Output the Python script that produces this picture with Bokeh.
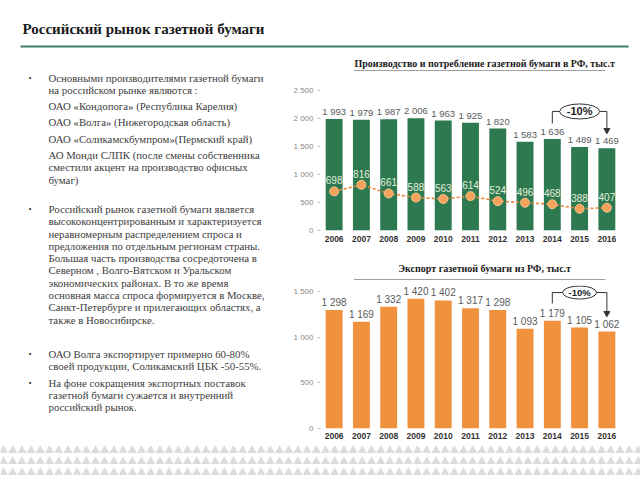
from bokeh.plotting import figure
from bokeh.layouts import column, row
from bokeh.models import Range1d, FactorRange, ColumnDataSource
from bokeh.core.properties import value
from bokeh.embed import file_html
from bokeh.resources import INLINE

# ---------------- data ----------------
years = ["2006", "2007", "2008", "2009", "2010", "2011", "2012", "2013", "2014", "2015", "2016"]
production = [1993, 1979, 1987, 2006, 1963, 1925, 1820, 1583, 1636, 1489, 1469]
consumption = [698, 816, 661, 588, 563, 614, 524, 496, 468, 388, 407]
export = [1298, 1169, 1332, 1420, 1402, 1317, 1298, 1093, 1179, 1105, 1062]
prod_ticks = [0, 500, 1000, 1500, 2000, 2500]
exp_ticks = [0, 500, 1000, 1500]
change_label = "-10%"

slide_title = "Российский рынок газетной бумаги"
chart1_title = "Производство и потребление газетной бумаги в РФ, тыс.т"
chart2_title = "Экспорт газетной бумаги из РФ, тыс.т"

# (bullet, lines, gap before block)
text_blocks = [
    (True, ["Основными производителями газетной бумаги",
            "на российском рынке являются :"], 0),
    (False, ["ОАО «Кондопога» (Республика Карелия)"], 4),
    (False, ["ОАО «Волга» (Нижегородская область)"], 4),
    (False, ["ОАО «Соликамскбумпром»(Пермский край)"], 4),
    (False, ["АО Монди СЛПК (после смены собственника",
             "сместили акцент на производство офисных",
             "бумаг)"], 4),
    (True, ["Российский рынок газетной бумаги является",
            "высококонцентрированным и характеризуется",
            "неравномерным распределением спроса и",
            "предложения по отдельным регионам страны.",
            "Большая часть производства сосредоточена в",
            "Северном , Волго-Вятском и Уральском",
            "экономических районах. В то же время",
            "основная масса спроса формируется в Москве,",
            "Санкт-Петербурге и прилегающих областях, а",
            "также в Новосибирске."], 17),
    (True, ["ОАО Волга экспортирует примерно 60-80%",
            "своей продукции, Соликамский ЦБК -50-55%."], 22),
    (True, ["На фоне сокращения экспортных поставок",
            "газетной бумаги сужается и внутренний",
            "российский рынок."], 4),
]

SERIF = value("'Liberation Serif', 'Times New Roman', serif")
SANS = value("Liberation Sans")
GREEN = "#2e7a50"
ORANGE = "#f0913e"


def blank(w, h):
    p = figure(width=w, height=h, output_backend="svg", toolbar_location=None,
               x_range=Range1d(0, w), y_range=Range1d(h, 0),
               x_axis_location=None, y_axis_location=None,
               min_border=0, min_border_left=0, min_border_right=0,
               min_border_top=0, min_border_bottom=0)
    p.grid.visible = False
    p.outline_line_color = None
    return p


# ---------------- title strip ----------------
tfig = blank(640, 52)
tfig.text(x=[22], y=[28], text=[slide_title], text_font=SERIF, text_font_style="bold",
          text_font_size="15px", text_color="#1a1a1a", text_baseline="middle")
tfig.segment(x0=[20], y0=[46], x1=[628], y1=[46], line_color="#3d7f6c", line_width=2)

# ---------------- left text ----------------
lfig = blank(280, 392)
lh = 12.3
y = 25.0
tx, ty, bx, by = [], [], [], []
first = True
for bullet, lines, gap in text_blocks:
    if not first:
        y += lh + gap
    first = False
    if bullet:
        bx.append(28)
        by.append(y)
    for i, ln in enumerate(lines):
        if i > 0:
            y += lh
        tx.append(48)
        ty.append(y)
all_lines = [ln for _, lines, _ in text_blocks for ln in lines]
lfig.text(x=tx, y=ty, text=all_lines, text_font=SERIF, text_font_size="10.8px",
          text_color="#404040", text_baseline="middle")
lfig.text(x=bx, y=by, text=["•"] * len(bx), text_font=SERIF, text_font_size="9px",
          text_color="#404040", text_baseline="middle")


# ---------------- chart title strips ----------------
def title_strip(h, txt, ty_, ly):
    f = blank(360, h)
    f.text(x=[197], y=[ty_], text=[txt], text_font=SERIF, text_font_style="bold",
           text_font_size="10px", text_color="#1a1a1a", text_align="center",
           text_baseline="middle")
    f.segment(x0=[40], y0=[ly], x1=[342], y1=[ly], line_color="#a0a0a0", line_width=1)
    return f


t1 = title_strip(24, chart1_title, 11, 18)
t2 = title_strip(28, chart2_title, 16, 27)


def fmt(v):
    return f"{v:,}".replace(",", " ")


def chart(h, top, bottom, ymax, ticks, standoff):
    p = figure(width=360, height=h, output_backend="svg", toolbar_location=None,
               x_range=FactorRange(*years, range_padding=0), y_range=Range1d(0, ymax),
               min_border_left=40, min_border_right=20, min_border_top=top,
               min_border_bottom=bottom)
    p.grid.visible = False
    p.outline_line_color = None
    p.yaxis.ticker = ticks
    p.yaxis.major_label_overrides = {t: fmt(t) for t in ticks}
    p.yaxis.axis_line_color = None
    p.yaxis.major_tick_in = 0
    p.yaxis.major_tick_out = 3
    p.yaxis.major_tick_line_color = "#bbbbbb"
    p.yaxis.minor_tick_line_color = None
    p.yaxis.major_label_text_font = "Liberation Sans"
    p.yaxis.major_label_text_font_size = "8px"
    p.yaxis.major_label_text_color = "#8a8a8a"
    p.yaxis.major_label_standoff = 4
    p.xaxis.axis_line_color = None
    p.xaxis.major_tick_in = 0
    p.xaxis.major_tick_out = 0
    p.xaxis.major_tick_line_color = None
    p.xaxis.minor_tick_line_color = None
    p.xaxis.major_label_text_font = "Liberation Sans"
    p.xaxis.major_label_text_font_style = "bold"
    p.xaxis.major_label_text_font_size = "8.5px"
    p.xaxis.major_label_text_color = "#333333"
    p.xaxis.major_label_standoff = standoff
    return p


def bracket(p, y_left, y_top, y_tip, ew, eh, fs):
    p.segment(x0=["2014", "2014", "2016"], y0=[y_left, y_top, y_top],
              x1=["2014", "2016", "2016"], y1=[y_top, y_top, y_tip],
              line_color="#333333", line_width=1)
    p.scatter(x=["2016"], y=[y_tip], marker="inverted_triangle", size=6,
              fill_color="#333333", line_color="#333333")
    p.ellipse(x=["2015"], y=[y_top], width=ew, height=eh, width_units="screen",
              height_units="screen", fill_color="white", line_color="#333333", line_width=1)
    p.text(x=["2015"], y=[y_top], text=[change_label], text_font=SANS,
           text_font_style="bold", text_font_size=fs, text_color="#222222",
           text_align="center", text_baseline="middle")


# ---------------- chart 1 ----------------
c1 = chart(176, 14, 22, 2500, prod_ticks, 5)
src1 = ColumnDataSource(dict(year=years, prod=production, cons=consumption,
                             plab=[fmt(v) for v in production],
                             clab=[str(v) for v in consumption]))
c1.vbar(x="year", top="prod", width=0.62, source=src1, fill_color=GREEN, line_color=None)
c1.text(x="year", y="prod", text="plab", source=src1, text_font=SANS, text_font_size="9.5px",
        text_color="#5a5a5a", text_align="center", text_baseline="bottom", y_offset=-2)
c1.line(x="year", y="cons", source=src1, line_color="#e8873a", line_width=1.6,
        line_dash="3 2")
c1.scatter(x="year", y="cons", source=src1, size=9, fill_color="#f2a25a",
           line_color="#f7c490", line_width=1)
c1.text(x="year", y="cons", text="clab", source=src1, text_font=SANS, text_font_size="10px",
        text_color="#e4eedc", text_align="center", text_baseline="bottom", y_offset=-7)
bracket(c1, production[8] + 275, production[8] + 490, production[10] + 320, 40, 15, "11px")

# ---------------- chart 2 ----------------
c2 = chart(164, 5, 16, 1566, exp_ticks, 4)
src2 = ColumnDataSource(dict(year=years, exp=export, elab=[fmt(v) for v in export]))
c2.vbar(x="year", top="exp", width=0.62, source=src2, fill_color=ORANGE, line_color=None)
c2.text(x="year", y="exp", text="elab", source=src2, text_font=SANS, text_font_size="10px",
        text_color="#5a5a5a", text_align="center", text_baseline="bottom", y_offset=-2)
bracket(c2, export[8] + 190, export[8] + 310, export[10] + 200, 34, 13, "9.5px")

# ---------------- decorative triangle band ----------------
bfig = blank(640, 34)
txs, tys = [], []
for r in range(3):
    for k in range(70):
        txs.append(3 + k * 9.2)
        tys.append(6 + r * 11)
bfig.scatter(x=txs, y=tys, marker="triangle", size=9, fill_color="#dcdcdc",
             line_color=None)

layout = column(tfig, row(lfig, column(t1, c1, t2, c2, spacing=0), spacing=0), bfig,
                spacing=0)

open("out.html", "w").write(file_html(layout, INLINE))
